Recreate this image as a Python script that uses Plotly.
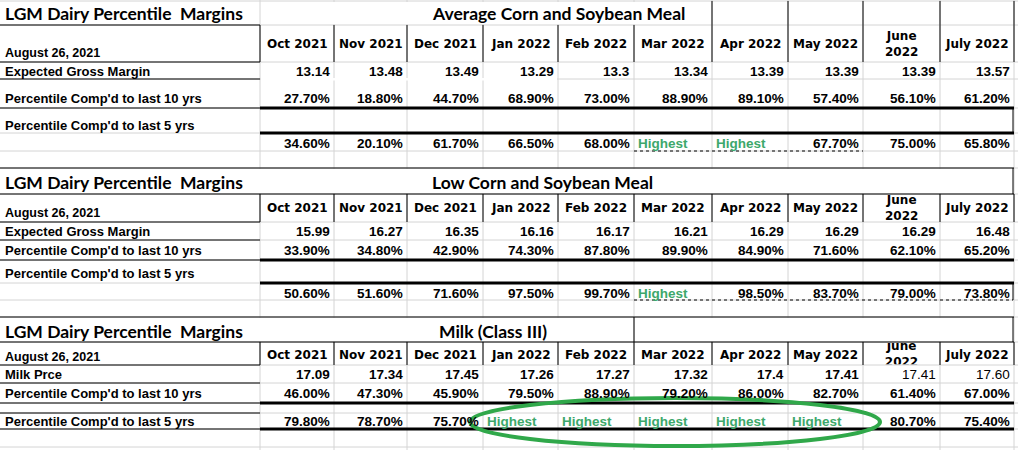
import plotly.graph_objects as go

# ---- data ----
months = ["Oct 2021", "Nov 2021", "Dec 2021", "Jan 2022", "Feb 2022",
          "Mar 2022", "Apr 2022", "May 2022", "June<br>2022", "July 2022"]
report_date = "August 26, 2021"
sheet_title = "LGM Dairy Percentile  Margins"

avg_margin = [13.14, 13.48, 13.49, 13.29, 13.3, 13.34, 13.39, 13.39, 13.39, 13.57]
avg_pct10 = [27.7, 18.8, 44.7, 68.9, 73.0, 88.9, 89.1, 57.4, 56.1, 61.2]
avg_pct5 = [34.6, 20.1, 61.7, 66.5, 68.0, None, None, 67.7, 75.0, 65.8]

low_margin = [15.99, 16.27, 16.35, 16.16, 16.17, 16.21, 16.29, 16.29, 16.29, 16.48]
low_pct10 = [33.9, 34.8, 42.9, 74.3, 87.8, 89.9, 84.9, 71.6, 62.1, 65.2]
low_pct5 = [50.6, 51.6, 71.6, 97.5, 99.7, None, 98.5, 83.7, 79.0, 73.8]

milk_price = [17.09, 17.34, 17.45, 17.26, 17.27, 17.32, 17.4, 17.41, 17.41, 17.60]
milk_plain = [False, False, False, False, False, False, False, False, True, True]
milk_pct10 = [46.0, 47.3, 45.9, 79.5, 88.9, 79.2, 86.0, 82.7, 61.4, 67.0]
milk_pct5 = [79.8, 78.7, 75.7, None, None, None, None, None, 80.7, 75.4]

# ---- sheet geometry (pixels) ----
W, H = 1018, 450
col_edges = [260, 334, 407, 483, 558, 634, 712, 788, 863, 940, 1014]
row_edges = [1, 25, 62, 79, 108, 133, 151, 168, 194, 222, 240, 260, 283, 300,
             317, 342, 365, 383, 403, 413, 429, 447]

GRID = "#d4d4d4"
GREEN_TXT = "#3da86b"
GREEN_RING = "#30a84a"
TITLE_FONT = "Lato"
HEAD_FONT = "DejaVu Sans"
CELL_FONT = "Liberation Sans"

shapes = []
annotations = []


def hline(x0, x1, y, width=1, color="black", dash="solid"):
    shapes.append(dict(type="line", xref="x", yref="y", x0=x0, x1=x1, y0=y, y1=y,
                       line=dict(color=color, width=width, dash=dash)))


def vline(x, y0, y1, width=1, color="black"):
    shapes.append(dict(type="line", xref="x", yref="y", x0=x, x1=x, y0=y0, y1=y1,
                       line=dict(color=color, width=width)))


def mask(x0, x1, y0, y1):
    shapes.append(dict(type="rect", xref="x", yref="y", x0=x0, x1=x1, y0=y0, y1=y1,
                       line=dict(width=0), fillcolor="white"))


def text(x, y, s, size, family, anchor="left", color="black"):
    annotations.append(dict(x=x, y=y, xref="x", yref="y", text=s, showarrow=False,
                            xanchor=anchor, yanchor="middle", align="center",
                            font=dict(family=family, size=size, color=color)))


# light gridlines everywhere
for y in row_edges:
    hline(0, W, y, color=GRID)
for x in col_edges:
    vline(x, 0, H, color=GRID)

# merged title cells hide the gridlines
mask(261, 711, 2, 24)
mask(1, 1013, 169, 193)
mask(1, 633, 318, 341)
mask(635, 1013, 318, 341)
mask(261, 557, 78, 80.5)

# black borders, block 1
for y in [25, 62, 79, 108]:
    hline(0, 260, y)
for x in col_edges[:6]:
    vline(x, 25, 62)
for x in col_edges[6:]:
    vline(x, 1, 62)
hline(260, 1014, 108, width=3)
hline(260, 1014, 133, width=3)
vline(1013, 108, 133)
hline(634, 863, 151, dash="dot")

# block 2
hline(0, 1014, 168)
hline(0, 1014, 194)
vline(1013, 168, 194)
for x in col_edges:
    vline(x, 194, 222)
for y in [222, 240, 260]:
    hline(0, 260, y)
hline(260, 1014, 260, width=3)
hline(260, 1014, 283, width=3)
vline(1013, 283, 300)
hline(634, 1013, 300, dash="dot")

# block 3
hline(0, 1014, 317)
hline(0, 1014, 342)
vline(634, 317, 342)
vline(1013, 317, 342)
for x in col_edges:
    vline(x, 342, 365)
for y in [365, 383, 403, 413, 429]:
    hline(0, 260, y)
hline(260, 1014, 403, width=3)
hline(260, 1014, 429, width=3)


def pct(v):
    return "%.2f%%" % v


clipped_heads = []


def add_block(subtitle, sub_x, ys, row_labels, margin, pct10, pct5, plain=None, clip_wrapped=False):
    text(3, ys["title"], "<b>" + sheet_title + "</b>", 17.5, TITLE_FONT)
    text(sub_x, ys["title"], "<b>" + subtitle + "</b>", 17.5, TITLE_FONT)
    text(3, ys["date"], "<b>" + report_date + "</b>", 12.5, CELL_FONT)
    for i, m in enumerate(months):
        cx = (col_edges[i] + col_edges[i + 1]) / 2
        if clip_wrapped and "<br>" in m:
            # row too short for the wrapped label: it gets cut at the cell edge
            clipped_heads.append((cx, ys["head"], m))
        else:
            text(cx, ys["head"], "<b>" + m + "</b>", 12, HEAD_FONT, anchor="center")
    text(3, ys["margin"], "<b>" + row_labels[0] + "</b>", 13, CELL_FONT)
    text(3, ys["pct10"], "<b>" + row_labels[1] + "</b>", 13, CELL_FONT)
    text(3, ys["pct5_label"], "<b>" + row_labels[2] + "</b>", 13, CELL_FONT)
    for i in range(len(months)):
        right = col_edges[i + 1] - 2
        if plain is not None and plain[i]:
            text(right, ys["margin"], "%.2f" % margin[i], 13.5, CELL_FONT, anchor="right")
        else:
            text(right, ys["margin"], "<b>%g</b>" % margin[i], 13.5, CELL_FONT, anchor="right")
        text(right, ys["pct10"], "<b>" + pct(pct10[i]) + "</b>", 13.5, CELL_FONT, anchor="right")
        if pct5[i] is None:
            text(col_edges[i] + 2, ys["pct5"], "<b>Highest</b>", 13.5, CELL_FONT,
                 color=GREEN_TXT)
        else:
            text(right, ys["pct5"], "<b>" + pct(pct5[i]) + "</b>", 13.5, CELL_FONT, anchor="right")


base_labels = ["Expected Gross Margin", "Percentile Comp'd to last 10 yrs",
               "Percentile Comp'd to last 5 yrs"]

add_block("Average Corn and Soybean Meal", 430,
          dict(title=13, date=53, head=44, margin=71, pct10=98, pct5_label=125, pct5=143),
          base_labels, avg_margin, avg_pct10, avg_pct5)
add_block("Low Corn and Soybean Meal", 430,
          dict(title=182, date=213, head=208, margin=231, pct10=250, pct5_label=273, pct5=293),
          base_labels, low_margin, low_pct10, low_pct5)
add_block("Milk (Class III)", 437,
          dict(title=331, date=357, head=355, margin=374, pct10=393, pct5_label=421, pct5=421),
          ["Milk Prce"] + base_labels[1:], milk_price, milk_pct10, milk_pct5,
          plain=milk_plain, clip_wrapped=True)

# green ring drawn around the "Highest" run
shapes.append(dict(type="circle", xref="x", yref="y", x0=470, x1=880, y0=398, y1=446,
                   line=dict(color=GREEN_RING, width=4), layer="above"))

fig = go.Figure()

# header cell of block 3 lives in its own small subplot so the text is clipped
clip_top, clip_bottom = 343, 364.5
fig.add_trace(go.Scatter(
    x=[c[0] for c in clipped_heads], y=[c[1] for c in clipped_heads],
    text=["<b>" + c[2] + "</b>" for c in clipped_heads],
    mode="text", textposition="middle center", cliponaxis=True,
    textfont=dict(family=HEAD_FONT, size=12, color="black"),
    xaxis="x2", yaxis="y2", hoverinfo="skip", showlegend=False,
))

fig.update_layout(
    width=W, height=H,
    margin=dict(l=0, r=0, t=0, b=0),
    paper_bgcolor="white", plot_bgcolor="rgba(0,0,0,0)",
    xaxis=dict(range=[0, W], visible=False, fixedrange=True),
    yaxis=dict(range=[H, 0], visible=False, fixedrange=True),
    xaxis2=dict(range=[0, W], domain=[0, 1], visible=False, fixedrange=True, anchor="y2"),
    yaxis2=dict(range=[clip_bottom, clip_top], visible=False, fixedrange=True, anchor="x2",
                domain=[1 - clip_bottom / H, 1 - clip_top / H]),
    shapes=shapes, annotations=annotations, showlegend=False,
)
# the sheet fills the window edge to edge
fig.write_html("out.html", config={"displayModeBar": False},
               post_script="document.body.style.margin = '0';")
